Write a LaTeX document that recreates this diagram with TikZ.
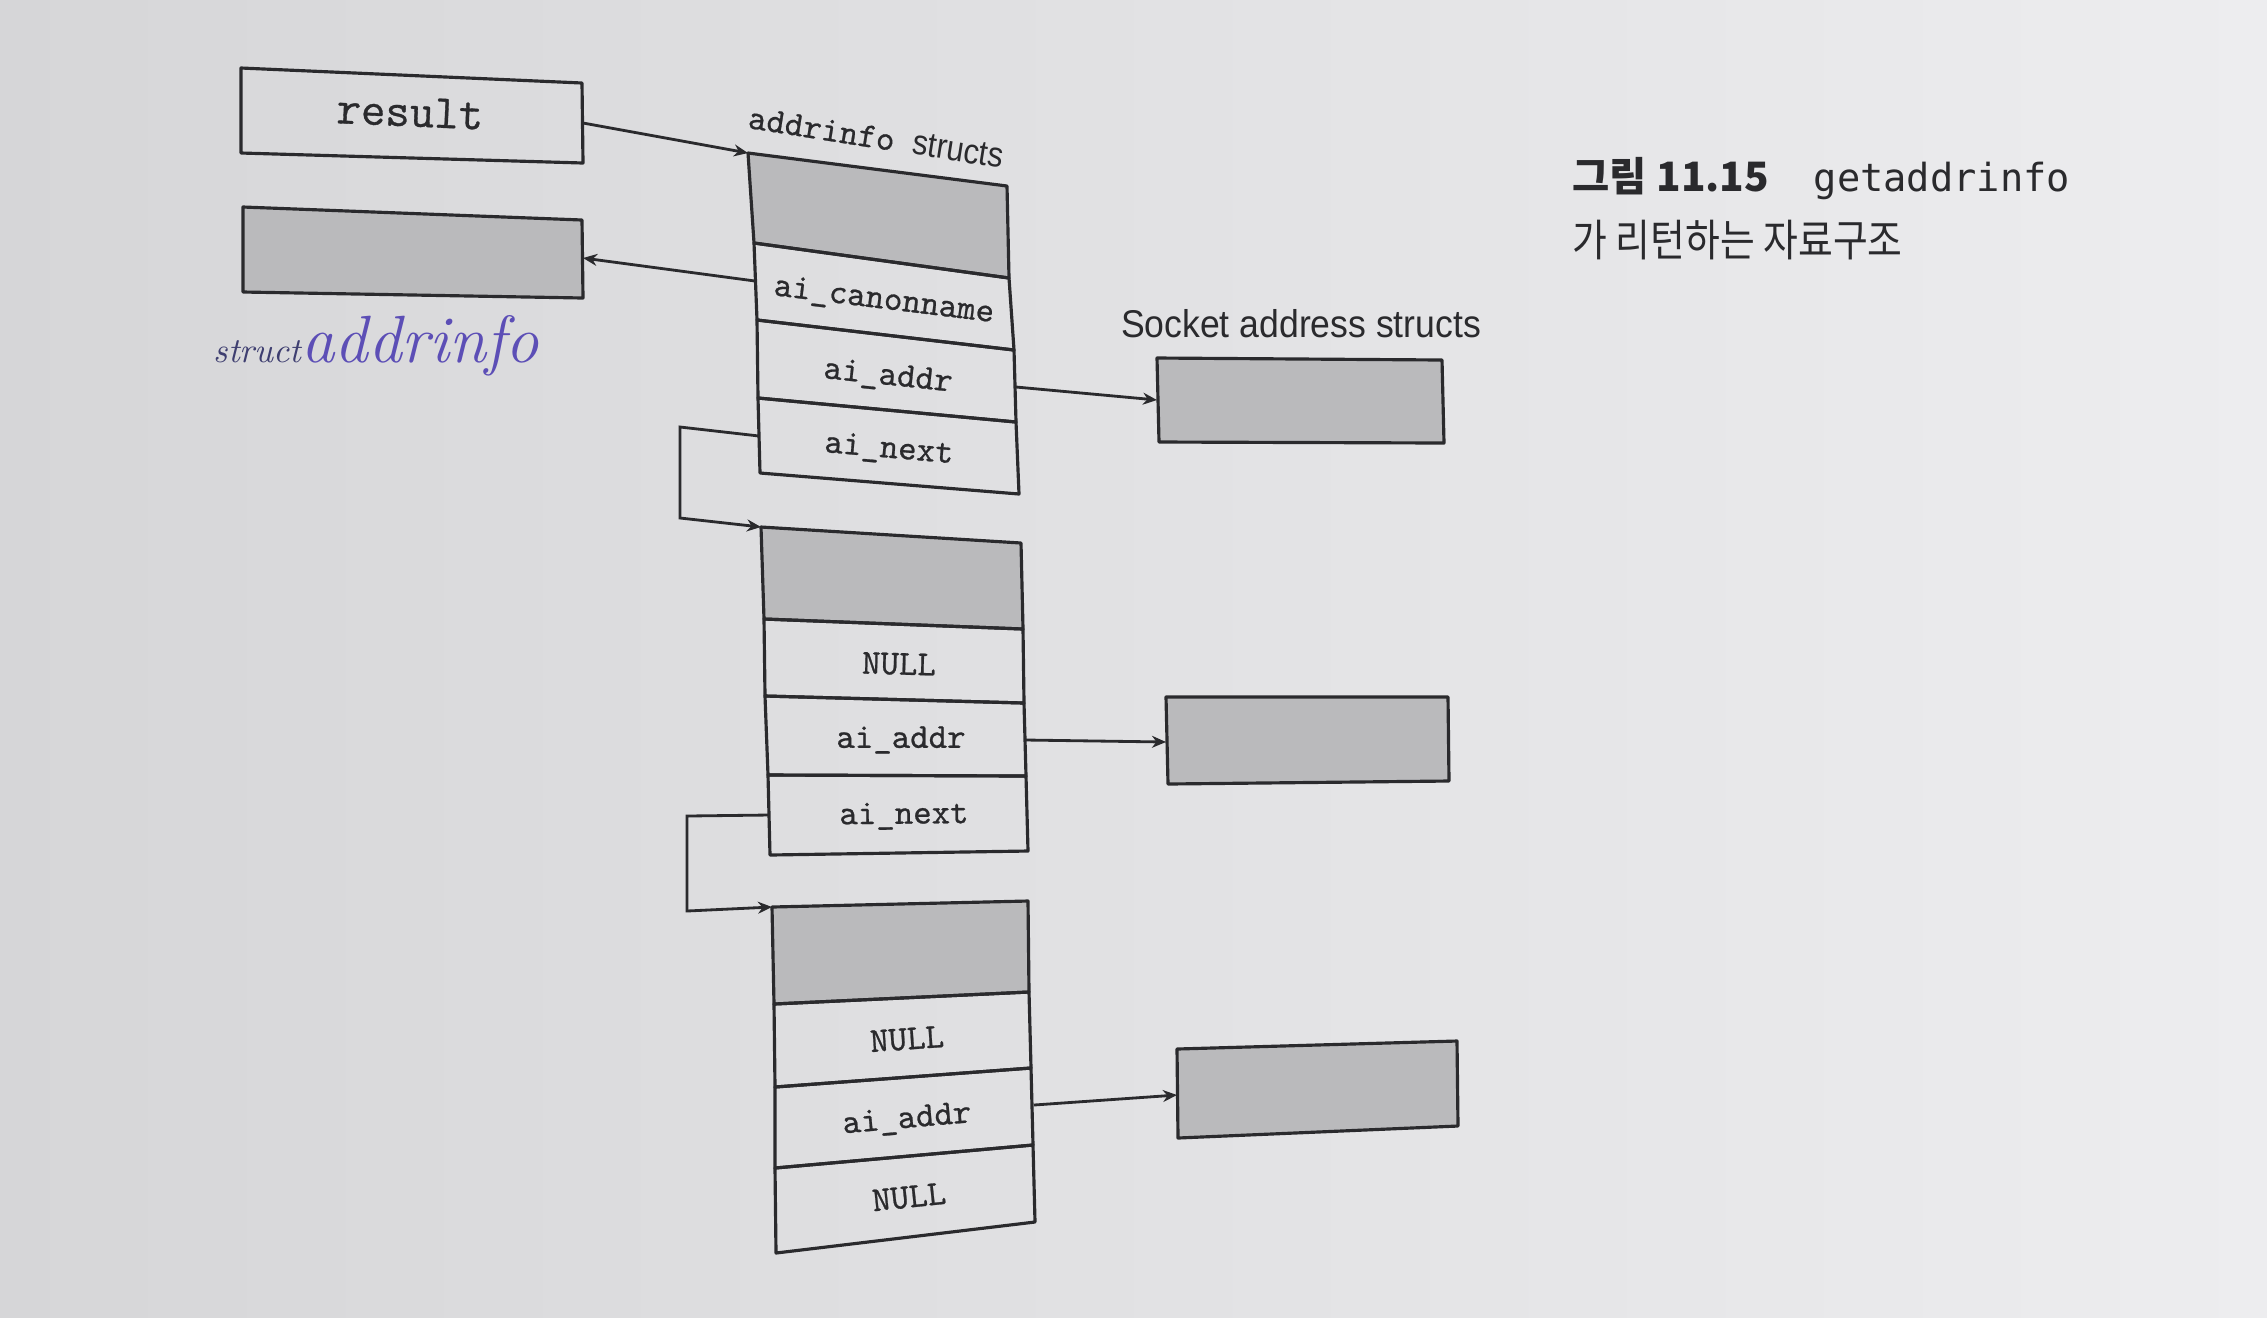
\documentclass[tikz,border=0pt]{standalone}
\usepackage{fontspec}
\usetikzlibrary{arrows.meta}
\setmonofont{Latin Modern Mono}[FakeBold=0.7]
\newfontfamily\sockfont{Liberation Sans}
\newfontfamily\cjkfont{Noto Sans CJK KR}
\newfontfamily\capmono{DejaVu Sans Mono}
\definecolor{pageL}{RGB}{214,214,216}
\definecolor{pageR}{RGB}{237,237,239}
\definecolor{cellgray}{RGB}{186,186,188}
\definecolor{ink}{RGB}{42,42,45}
\definecolor{pen}{RGB}{92,78,182}
\definecolor{pendark}{RGB}{62,62,112}
\newcommand\qbox[5]{\path[#1] #2 -- #3 -- #4 -- #5 -- cycle;}
\tikzset{
  cellline/.style={draw=ink, line width=0.9pt, line join=round},
  shadedcell/.style={cellline, fill=cellgray},
  plaincell/.style={cellline},
  link/.style={draw=ink, line width=0.8pt, line join=miter, -{Stealth[length=4pt,width=3.4pt]}},
  field/.style={font=\fontsize{10}{12}\selectfont\ttfamily, text=ink, inner sep=0pt},
}
\begin{document}
\begin{tikzpicture}[x=0.01cm,y=-0.01cm]
\shade[left color=pageL, right color=pageR] (0,0) rectangle (2267,1317);
\useasboundingbox (0,0) rectangle (2267,1317);

% ---- coordinates ----
\coordinate (rTL) at (241,68);  \coordinate (rTR) at (582,83);
\coordinate (rBR) at (583,163); \coordinate (rBL) at (241,153);
\coordinate (gTL) at (243,207); \coordinate (gTR) at (582,220);
\coordinate (gBR) at (583,298); \coordinate (gBL) at (243,292);
% struct 1
\coordinate (a0l) at (748,153);  \coordinate (a0r) at (1007,186);
\coordinate (a1l) at (754,243);  \coordinate (a1r) at (1009,278);
\coordinate (a2l) at (757,320);  \coordinate (a2r) at (1014,350);
\coordinate (a3l) at (758,398);  \coordinate (a3r) at (1016,422);
\coordinate (a4l) at (760,473);  \coordinate (a4r) at (1019,494);
% struct 2
\coordinate (b0l) at (761,527);  \coordinate (b0r) at (1021,543);
\coordinate (b1l) at (764,619);  \coordinate (b1r) at (1023,629);
\coordinate (b2l) at (765,696);  \coordinate (b2r) at (1024,703);
\coordinate (b3l) at (768,775);  \coordinate (b3r) at (1026,776);
\coordinate (b4l) at (770,855);  \coordinate (b4r) at (1028,851);
% struct 3
\coordinate (c0l) at (772,907);  \coordinate (c0r) at (1028,901);
\coordinate (c1l) at (774,1004); \coordinate (c1r) at (1029,992);
\coordinate (c2l) at (775,1087); \coordinate (c2r) at (1031,1068);
\coordinate (c3l) at (775,1168); \coordinate (c3r) at (1033,1145);
\coordinate (c4l) at (776,1253); \coordinate (c4r) at (1035,1222);
% socket address boxes
\coordinate (p1TL) at (1157,358); \coordinate (p1TR) at (1442,360);
\coordinate (p1BR) at (1444,443); \coordinate (p1BL) at (1159,442);
\coordinate (p2TL) at (1166,697); \coordinate (p2TR) at (1448,697);
\coordinate (p2BR) at (1449,781); \coordinate (p2BL) at (1168,784);
\coordinate (p3TL) at (1177,1049); \coordinate (p3TR) at (1457,1041);
\coordinate (p3BR) at (1458,1126); \coordinate (p3BL) at (1178,1138);
% connector ends
\coordinate (rOut) at (583,123);
\coordinate (cnOut) at (755,281);  \coordinate (gIn) at (583,258);
\coordinate (ad1) at (1016,387);   \coordinate (p1in) at (1157,400);
\coordinate (nx1) at (759,436);    \coordinate (k1a) at (680,427);  \coordinate (k1b) at (680,518);
\coordinate (ad2) at (1026,740);   \coordinate (p2in) at (1166,742);
\coordinate (nx2) at (769,815);    \coordinate (k2a) at (687,816);  \coordinate (k2b) at (687,911);
\coordinate (ad3) at (1034,1105);  \coordinate (p3in) at (1177,1095);

% ---- boxes ----
\qbox{plaincell}{(rTL)}{(rTR)}{(rBR)}{(rBL)}
\qbox{shadedcell}{(gTL)}{(gTR)}{(gBR)}{(gBL)}

\qbox{shadedcell}{(a0l)}{(a0r)}{(a1r)}{(a1l)}
\qbox{plaincell}{(a1l)}{(a1r)}{(a2r)}{(a2l)}
\qbox{plaincell}{(a2l)}{(a2r)}{(a3r)}{(a3l)}
\qbox{plaincell}{(a3l)}{(a3r)}{(a4r)}{(a4l)}

\qbox{shadedcell}{(b0l)}{(b0r)}{(b1r)}{(b1l)}
\qbox{plaincell}{(b1l)}{(b1r)}{(b2r)}{(b2l)}
\qbox{plaincell}{(b2l)}{(b2r)}{(b3r)}{(b3l)}
\qbox{plaincell}{(b3l)}{(b3r)}{(b4r)}{(b4l)}

\qbox{shadedcell}{(c0l)}{(c0r)}{(c1r)}{(c1l)}
\qbox{plaincell}{(c1l)}{(c1r)}{(c2r)}{(c2l)}
\qbox{plaincell}{(c2l)}{(c2r)}{(c3r)}{(c3l)}
\qbox{plaincell}{(c3l)}{(c3r)}{(c4r)}{(c4l)}

\qbox{shadedcell}{(p1TL)}{(p1TR)}{(p1BR)}{(p1BL)}
\qbox{shadedcell}{(p2TL)}{(p2TR)}{(p2BR)}{(p2BL)}
\qbox{shadedcell}{(p3TL)}{(p3TR)}{(p3BR)}{(p3BL)}

% ---- texts ----
\node[inner sep=0pt, text=ink, rotate=-2.5, font=\fontsize{13.5}{15}\selectfont\ttfamily] (result) at (410,112) {result};
\node[inner sep=0pt, text=ink, rotate=-9] (ailabel) at (876,137)
  {\fontsize{10}{12}\selectfont\ttfamily addrinfo\ \sockfont\scalebox{0.88}[1]{structs}};
\node[field, rotate=-7] (s1canon) at (884,301) {ai\_canonname};
\node[field, rotate=-6] (s1addr) at (888,377) {ai\_addr};
\node[field, rotate=-5] (s1next) at (889,450) {ai\_next};

\node[field, rotate=-1.5] (s2null) at (899,664) {NULL};
\node[field, rotate=0] (s2addr) at (901,740) {ai\_addr};
\node[field, rotate=0.5] (s2next) at (904,816) {ai\_next};

\node[field, rotate=4] (s3null) at (907,1039) {NULL};
\node[field, rotate=5] (s3addr) at (907,1120) {ai\_addr};
\node[field, rotate=6] (s3null2) at (909,1197) {NULL};

\node[inner sep=0pt, text=ink] (socklabel) at (1301,324)
  {\sockfont\fontsize{11}{13}\selectfont\scalebox{0.92}[1]{Socket address structs}};

\node[anchor=base west, inner sep=0pt] (hand) at (213,362)
  {{\color{pendark}\fontsize{10}{10}\selectfont\itshape struct}{\color{pen}\fontsize{19}{20}\selectfont\itshape addrinfo}};

\node[anchor=base west, inner sep=0pt, text=ink] (figno) at (1572,191)
  {\cjkfont\bfseries\fontsize{11.5}{13}\selectfont 그림 11.15};
\node[anchor=base west, inner sep=0pt, text=ink] (fname) at (1813,191)
  {\capmono\fontsize{11}{13}\selectfont getaddrinfo};
\node[anchor=base west, inner sep=0pt, text=ink] (cap2) at (1572,256)
  {\cjkfont\fontsize{12.5}{14}\selectfont\scalebox{0.86}[1]{가 리턴하는 자료구조}};

% ---- connectors ----
\draw[link] (rOut) -- (a0l);
\draw[link] (cnOut) -- (gIn);
\draw[link] (ad1) -- (p1in);
\draw[link] (nx1) -- (k1a) -- (k1b) -- (b0l);
\draw[link] (ad2) -- (p2in);
\draw[link] (nx2) -- (k2a) -- (k2b) -- (c0l);
\draw[link] (ad3) -- (p3in);
\end{tikzpicture}
\end{document}
